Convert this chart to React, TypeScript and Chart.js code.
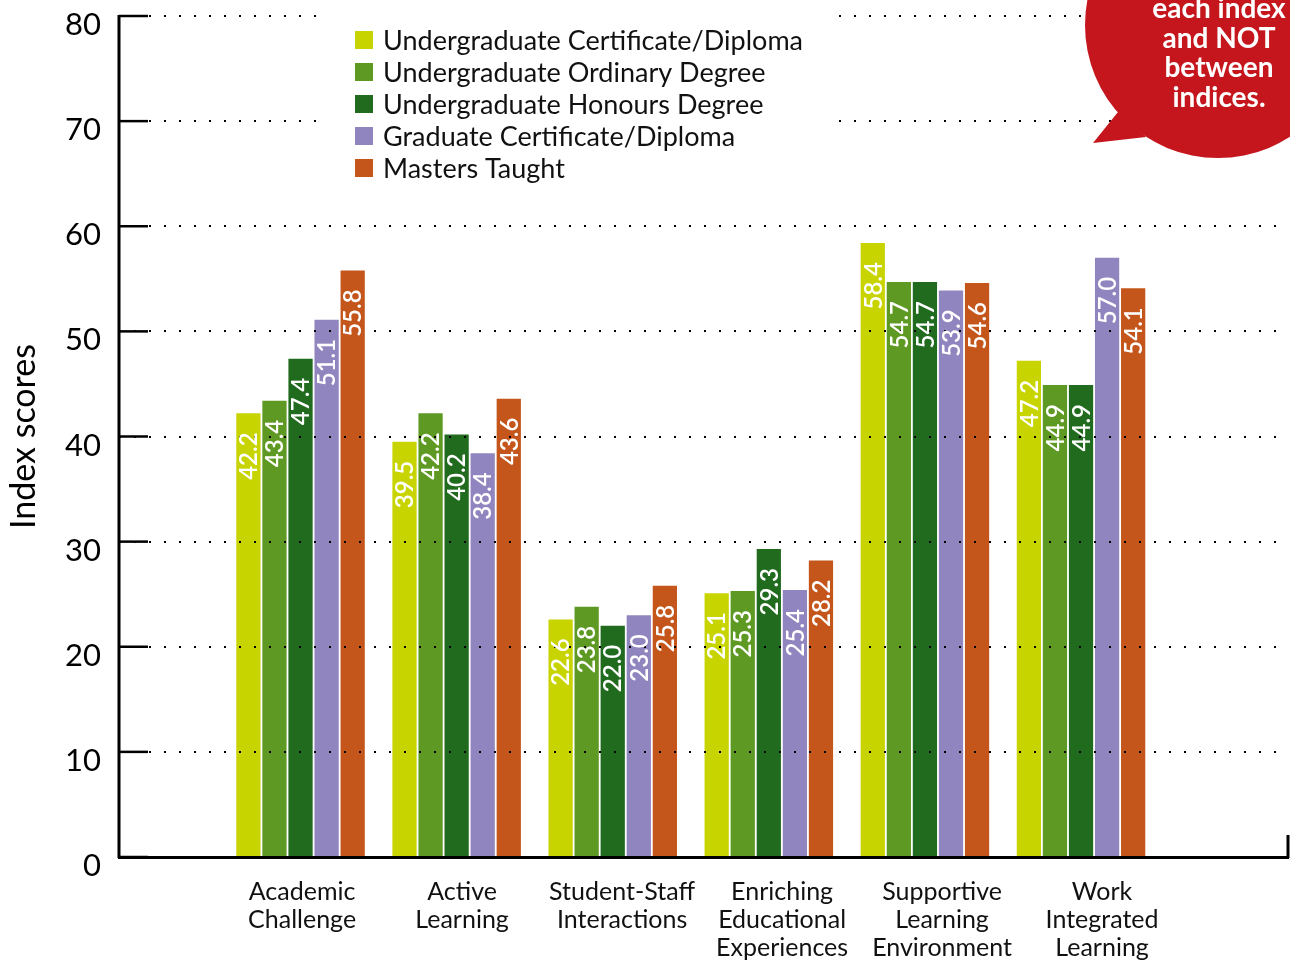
import React, { useEffect, useRef } from "react";
import { Chart, registerables } from "chart.js";

Chart.register(...registerables);

const categories: string[][] = [
  ["Academic", "Challenge"],
  ["Active", "Learning"],
  ["Student-Staff", "Interactions"],
  ["Enriching", "Educational", "Experiences"],
  ["Supportive", "Learning", "Environment"],
  ["Work", "Integrated", "Learning"],
];

const seriesNames = [
  "Undergraduate Certificate/Diploma",
  "Undergraduate Ordinary Degree",
  "Undergraduate Honours Degree",
  "Graduate Certificate/Diploma",
  "Masters Taught",
];

const ugCertificate = [42.2, 39.5, 22.6, 25.1, 58.4, 47.2];
const ugOrdinary = [43.4, 42.2, 23.8, 25.3, 54.7, 44.9];
const ugHonours = [47.4, 40.2, 22.0, 29.3, 54.7, 44.9];
const gradCertificate = [51.1, 38.4, 23.0, 25.4, 53.9, 57.0];
const mastersTaught = [55.8, 43.6, 25.8, 28.2, 54.6, 54.1];

const seriesColors = ["#C8D400", "#5E9A23", "#206B1E", "#9085BE", "#C4561C"];

const yTicks = [0, 10, 20, 30, 40, 50, 60, 70, 80];

const noteLines = ["each index", "and NOT", "between", "indices."];

const FONT = "Lato, 'Noto Sans', sans-serif";

// category labels in the original are spaced slightly wider than the bar groups
const LABEL_SPREAD = 1.025;

export default function App() {
  const ref = useRef<HTMLCanvasElement | null>(null);

  useEffect(() => {
    const canvas = ref.current;
    if (!canvas) return;
    const values = [ugCertificate, ugOrdinary, ugHonours, gradCertificate, mastersTaught];

    const overlay = {
      id: "overlay",
      afterDraw(chart: any) {
        const ctx = chart.ctx;
        const area = chart.chartArea;
        const yScale = chart.scales.y;
        ctx.save();
        // y axis line and inner tick marks
        ctx.strokeStyle = "#000";
        ctx.lineWidth = 3;
        ctx.beginPath();
        ctx.moveTo(area.left, area.top - 1);
        ctx.lineTo(area.left, area.bottom + 1);
        ctx.stroke();
        ctx.lineWidth = 2.5;
        yTicks.forEach((t) => {
          const y = yScale.getPixelForValue(t);
          ctx.beginPath();
          ctx.moveTo(area.left, y);
          ctx.lineTo(area.left + 29, y);
          ctx.stroke();
        });
        // right end vertical tick of x axis
        ctx.beginPath();
        ctx.lineWidth = 3;
        ctx.moveTo(area.right, area.bottom + 1);
        ctx.lineTo(area.right, area.bottom - 22);
        ctx.stroke();

        // value labels
        ctx.fillStyle = "#fff";
        ctx.font = `600 24px ${FONT}`;
        ctx.textAlign = "right";
        ctx.textBaseline = "middle";
        chart.data.datasets.forEach((ds: any, di: number) => {
          const meta = chart.getDatasetMeta(di);
          meta.data.forEach((bar: any, i: number) => {
            const v = ds.data[i].y;
            ctx.save();
            ctx.translate(bar.x + 1, bar.y + 19);
            ctx.rotate(-Math.PI / 2);
            ctx.fillText(v.toFixed(1), 0, 0);
            ctx.restore();
          });
        });

        // legend
        ctx.fillStyle = "#fff";
        ctx.fillRect(322, 0, 516, 192);
        ctx.font = `27px ${FONT}`;
        ctx.textAlign = "left";
        ctx.textBaseline = "middle";
        seriesNames.forEach((name, i) => {
          const cy = 40 + i * 32;
          ctx.fillStyle = seriesColors[i];
          ctx.fillRect(355, cy - 9, 18, 18);
          ctx.fillStyle = "#111";
          ctx.fillText(name, 383, cy + 1);
        });

        // speech bubble
        ctx.fillStyle = "#C4161C";
        ctx.beginPath();
        ctx.arc(1218, 25, 133, 0, Math.PI * 2);
        ctx.fill();
        ctx.beginPath();
        ctx.moveTo(1118, 112);
        ctx.lineTo(1093, 143);
        ctx.lineTo(1146, 137);
        ctx.closePath();
        ctx.fill();
        ctx.fillStyle = "#fff";
        ctx.font = `bold 28px ${FONT}`;
        ctx.textAlign = "center";
        ctx.textBaseline = "middle";
        noteLines.forEach((l, i) => {
          ctx.fillText(l, 1219, 9 + i * 29.5);
        });
        ctx.restore();
      },
    };

    const chart = new Chart(canvas, {
      type: "bar",
      data: {
        datasets: seriesNames.map((name, si) => ({
          label: name,
          data: values[si].map((v, i) => ({ x: i, y: v })),
          backgroundColor: seriesColors[si],
          borderWidth: 0,
          categoryPercentage: 0.835,
          barPercentage: 0.93,
        })),
      },
      options: {
        responsive: false,
        animation: false,
        layout: { padding: { top: 16, right: 2, left: 0, bottom: 0 } },
        plugins: {
          legend: { display: false },
          tooltip: { enabled: false },
        },
        scales: {
          x: {
            type: "linear",
            offset: false,
            min: -1.163,
            max: 6.326,
            grid: { display: false, drawTicks: false },
            border: { display: true, color: "#000", width: 3 },
            afterBuildTicks: (scale: any) => {
              scale.ticks = categories.map((_, i) => ({ value: i * LABEL_SPREAD + 0.01 }));
            },
            afterFit: (scale: any) => {
              scale.height = 103;
              scale.paddingLeft = 0;
              scale.paddingRight = 0;
            },
            ticks: {
              autoSkip: false,
              maxRotation: 0,
              padding: 21,
              color: "#111",
              font: { family: FONT, size: 25, lineHeight: 1.12 },
              callback: (v: any) => categories[Math.round(Number(v) / LABEL_SPREAD)] ?? "",
            },
          },
          y: {
            min: 0,
            max: 80,
            afterBuildTicks: (scale: any) => {
              scale.ticks = yTicks.map((v) => ({ value: v }));
            },
            afterFit: (scale: any) => {
              scale.width = 119;
              scale.paddingTop = 0;
              scale.paddingBottom = 0;
            },
            grid: {
              z: 1,
              drawTicks: false,
              color: "#000",
              lineWidth: 2,
            },
            border: { display: false, color: "#000", width: 3, dash: [2, 13], dashOffset: 0 } as any,
            ticks: {
              padding: 18,
              labelOffset: 9,
              color: "#000",
              font: { family: FONT, size: 31 },
            },
            title: {
              display: true,
              text: "Index scores",
              color: "#000",
              padding: { top: 4, bottom: 0 },
              font: { family: FONT, size: 34 },
            },
          },
        },
      },
      plugins: [overlay],
    } as any);

    return () => chart.destroy();
  }, []);

  return (
    <div style={{ position: "fixed", left: 0, top: 0, width: 1290, height: 960, background: "#fff" }}>
      <canvas ref={ref} width={1290} height={960} style={{ display: "block" }} />
    </div>
  );
}
